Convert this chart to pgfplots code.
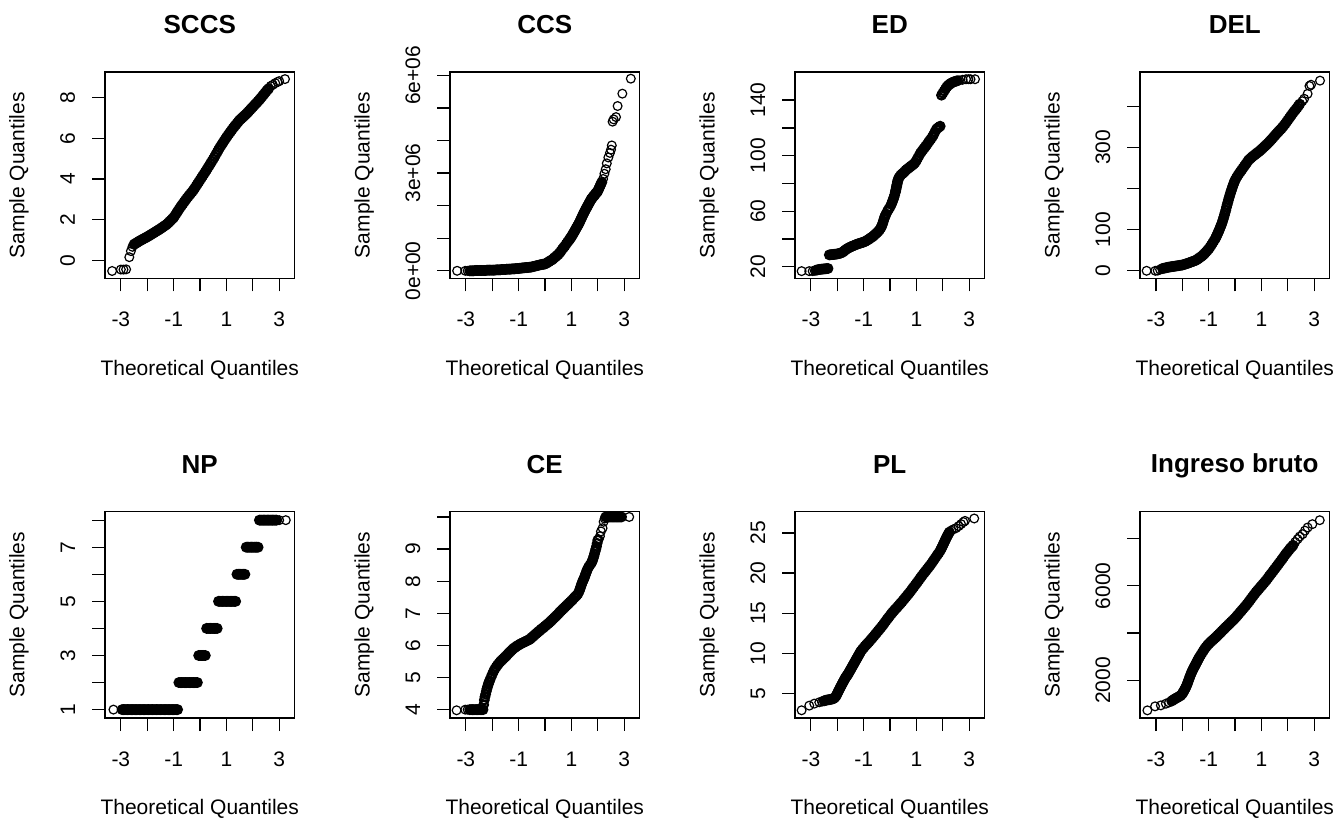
\documentclass[border=0pt]{standalone}
\usepackage{fontspec}
\setmainfont{Liberation Sans}
\usepackage{pgfplots}
\usepackage{pgfplotstable}
\pgfplotsset{compat=1.18}

% Normal QQ plots: theoretical quantile x, sample quantiles per variable
% (CCS in millions). Dense body of each sample on a common x grid.
\pgfplotstableread{
x sccs ccs ed del np ce pl ib
-2.95 nan nan nan nan 1 nan nan nan
-2.90 nan nan nan nan 1 nan nan nan
-2.85 nan 0.00 nan nan 1 4.00 nan nan
-2.80 nan 0.00 17.6 nan 1 4.00 nan nan
-2.75 nan 0.00 17.8 5.5 1 4.00 nan nan
-2.70 nan 0.00 18.0 6.2 1 4.00 nan nan
-2.65 nan 0.01 18.2 6.9 1 4.00 nan nan
-2.60 nan 0.01 18.3 7.6 1 4.00 nan nan
-2.55 nan 0.01 18.4 8.3 1 4.00 nan nan
-2.50 0.78 0.01 18.5 9.0 1 4.00 4.10 nan
-2.45 0.82 0.01 18.6 9.5 1 4.00 4.15 nan
-2.40 0.86 0.01 18.7 10.0 1 4.00 4.19 1130
-2.35 0.90 0.01 18.8 10.5 1 4.00 4.22 1170
-2.30 0.94 0.01 28.6 11.0 1 4.30 4.25 1205
-2.25 0.98 0.01 28.7 11.5 1 4.48 4.28 1240
-2.20 1.01 0.02 28.8 12.0 1 4.65 4.31 1270
-2.15 1.05 0.02 28.9 12.5 1 4.79 4.36 1300
-2.10 1.08 0.02 29.0 13.0 1 4.90 4.48 1335
-2.05 1.12 0.02 29.1 13.5 1 5.00 4.67 1368
-2.00 1.15 0.02 29.3 14.0 1 5.10 5.00 1440
-1.95 1.19 0.02 29.5 15.0 1 5.19 5.33 1530
-1.90 1.23 0.02 29.7 16.0 1 5.27 5.66 1630
-1.85 1.27 0.03 30.0 17.0 1 5.33 5.98 1740
-1.80 1.31 0.03 30.5 18.0 1 5.39 6.30 1880
-1.75 1.35 0.03 31.2 19.2 1 5.44 6.60 2040
-1.70 1.39 0.03 32.0 20.4 1 5.49 6.90 2190
-1.65 1.43 0.04 32.7 21.6 1 5.53 7.15 2330
-1.60 1.47 0.04 33.3 22.8 1 5.57 7.38 2450
-1.55 1.51 0.04 33.8 23.9 1 5.61 7.67 2560
-1.50 1.55 0.04 34.3 25.0 1 5.65 7.96 2660
-1.45 1.60 0.05 34.7 27.0 1 5.69 8.25 2770
-1.40 1.64 0.05 35.1 29.0 1 5.74 8.54 2880
-1.35 1.69 0.05 35.5 31.5 1 5.78 8.83 2980
-1.30 1.73 0.05 35.9 33.8 1 5.82 9.13 3070
-1.25 1.78 0.06 36.3 36.0 1 5.86 9.42 3160
-1.20 1.84 0.06 36.6 39.0 1 5.90 9.72 3250
-1.15 1.91 0.06 36.9 42.3 1 5.93 10.00 3340
-1.10 1.97 0.07 37.2 45.7 1 5.96 10.30 3410
-1.05 2.04 0.07 37.5 49.3 1 5.99 10.50 3480
-1.00 2.10 0.07 37.8 53.0 1 6.01 10.70 3540
-0.95 2.20 0.08 38.2 57.5 1 6.04 10.90 3600
-0.90 2.30 0.08 38.7 62.3 1 6.06 11.08 3650
-0.85 2.40 0.09 39.3 67.5 1 6.08 11.25 3700
-0.80 2.50 0.09 39.9 72.7 2 6.10 11.43 3750
-0.75 2.60 0.10 40.6 78.0 2 6.12 11.62 3800
-0.70 2.69 0.10 41.2 84.5 2 6.14 11.82 3855
-0.65 2.78 0.10 41.9 91.5 2 6.16 12.00 3910
-0.60 2.87 0.11 42.7 99.0 2 6.18 12.20 3965
-0.55 2.96 0.11 43.6 107.0 2 6.21 12.40 4020
-0.50 3.05 0.12 44.5 115.0 2 6.25 12.60 4080
-0.45 3.13 0.13 45.4 125.0 2 6.28 12.80 4135
-0.40 3.21 0.14 46.5 136.0 2 6.32 13.00 4190
-0.35 3.29 0.15 48.0 147.5 2 6.36 13.20 4248
-0.30 3.37 0.16 50.0 160.0 2 6.39 13.40 4300
-0.25 3.45 0.17 53.0 172.0 2 6.43 13.62 4355
-0.20 3.55 0.18 56.0 183.0 2 6.46 13.85 4410
-0.15 3.65 0.19 58.0 193.5 2 6.50 14.07 4465
-0.10 3.75 0.20 60.0 203.0 2 6.53 14.30 4520
-0.05 3.85 0.20 61.5 212.0 3 6.56 14.50 4575
0.00 3.95 0.21 63.0 220.0 3 6.60 14.72 4630
0.05 4.05 0.23 65.0 226.0 3 6.63 14.93 4695
0.10 4.15 0.26 67.5 231.0 3 6.67 15.13 4760
0.15 4.25 0.28 70.0 236.0 3 6.70 15.32 4825
0.20 4.35 0.31 73.5 240.5 3 6.74 15.50 4890
0.25 4.45 0.33 78.0 245.0 4 6.78 15.68 4955
0.30 4.56 0.36 82.5 249.5 4 6.82 15.86 5020
0.35 4.66 0.40 84.5 254.0 4 6.86 16.05 5085
0.40 4.77 0.43 85.8 258.5 4 6.90 16.24 5150
0.45 4.87 0.47 86.8 263.0 4 6.94 16.42 5220
0.50 4.98 0.50 87.5 268.0 4 6.98 16.62 5290
0.55 5.09 0.55 88.5 271.0 4 7.03 16.82 5365
0.60 5.21 0.60 89.5 274.0 4 7.07 17.02 5440
0.65 5.32 0.66 90.3 277.0 4 7.11 17.22 5515
0.70 5.44 0.71 91.0 279.5 5 7.15 17.42 5590
0.75 5.55 0.76 91.8 282.0 5 7.19 17.62 5665
0.80 5.65 0.82 92.5 284.5 5 7.23 17.84 5735
0.85 5.75 0.88 93.2 287.0 5 7.27 18.06 5800
0.90 5.85 0.93 94.0 289.5 5 7.31 18.28 5865
0.95 5.95 0.99 95.0 292.0 5 7.35 18.50 5930
1.00 6.05 1.05 96.5 295.0 5 7.39 18.72 5995
1.05 6.14 1.12 98.3 298.0 5 7.43 18.94 6060
1.10 6.23 1.19 100.0 301.0 5 7.48 19.16 6125
1.15 6.32 1.26 101.8 304.0 5 7.52 19.40 6190
1.20 6.41 1.33 103.0 307.0 5 7.56 19.62 6260
1.25 6.50 1.40 104.3 310.0 5 7.61 19.84 6335
1.30 6.58 1.48 105.5 313.5 5 7.70 20.05 6410
1.35 6.66 1.57 106.8 317.0 5 7.82 20.26 6485
1.40 6.74 1.65 108.0 320.5 6 7.94 20.47 6555
1.45 6.82 1.74 109.5 324.0 6 8.04 20.68 6630
1.50 6.90 1.82 110.8 328.0 6 8.13 20.89 6705
1.55 6.96 1.90 112.0 331.5 6 8.25 21.10 6777
1.60 7.02 1.97 113.5 335.0 6 8.36 21.34 6850
1.65 7.08 2.05 115.0 338.5 6 8.44 21.58 6925
1.70 7.14 2.12 117.0 342.0 6 8.50 21.82 7000
1.75 7.20 2.20 118.8 345.0 7 8.56 22.06 7075
1.80 7.27 2.25 119.8 349.0 7 8.65 22.30 7150
1.85 7.34 2.30 120.5 353.0 7 8.78 22.52 7230
1.90 7.41 2.35 121.2 357.0 7 8.93 22.80 7310
1.95 7.48 2.40 143.5 361.5 7 9.08 23.10 7380
2.00 7.55 2.45 145.0 366.0 7 9.28 23.45 7450
2.05 7.62 2.54 146.5 370.5 7 nan 23.80 7520
2.10 7.69 2.63 148.0 375.0 7 nan 24.15 7590
2.15 7.76 2.72 149.5 379.5 7 nan 24.50 7650
2.20 7.83 nan 150.5 384.0 7 nan 24.80 7710
2.25 7.90 nan 151.2 388.0 8 nan 25.10 nan
2.30 7.98 nan 152.0 392.0 8 10 nan nan
2.35 8.06 nan 152.5 396.0 8 10 nan nan
2.40 8.14 nan 153.0 400.5 8 10 nan nan
2.45 8.22 nan 153.3 405.0 8 10 nan nan
2.50 8.30 nan 153.6 nan 8 10 nan nan
2.55 8.38 nan 153.9 nan 8 10 nan nan
2.60 8.45 nan nan nan 8 10 nan nan
2.65 nan nan nan nan 8 10 nan nan
2.70 nan nan nan nan 8 10 nan nan
2.75 nan nan nan nan 8 10 nan nan
2.80 nan nan nan nan 8 10 nan nan
2.85 nan nan nan nan 8 10 nan nan
2.90 nan nan nan nan 8 10 nan nan
}\qqdata

\pgfplotsset{
  qq/.style={
    scale only axis, width=189.5bp, height=206.5bp,
    anchor=south west, clip=false,
    xmin=-3.6, xmax=3.58,
    xtick={-3,-2,-1,0,1,2,3},
    xticklabels={-3,,-1,,1,,3},
    tick align=outside, xtick pos=left, ytick pos=left,
    major tick length=13bp,
    every tick/.style={black, line width=1.3bp},
    axis line style={line width=1.3bp},
    tick label style={font=\fontsize{21bp}{25bp}\selectfont},
    label style={font=\fontsize{21bp}{25bp}\selectfont},
    xticklabel style={anchor=base, yshift=-35bp},
    yticklabel style={xshift=-17bp, rotate=90, anchor=base},
    every axis title/.style={font=\fontsize{26bp}{30bp}\selectfont\bfseries,
      at={(axis description cs:0.5,1.1864)}, anchor=base},
    xlabel={Theoretical Quantiles}, ylabel={Sample Quantiles},
    xlabel style={at={(axis description cs:0.5,-0.4697)}, anchor=base},
    ylabel style={at={(axis description cs:-0.4248,0.5)}, anchor=base},
  },
  % isolated observations: thin open circles
  pts/.style={only marks, mark=o, mark size=4.4bp, black,
    mark options={line width=1.2bp}},
  % crowded observations: rings merge into a solid band
  band/.style={only marks, mark=o, mark size=4.3bp, black,
    mark options={line width=2.2bp}},
}

\begin{document}
\begin{tikzpicture}
\useasboundingbox (0,0) rectangle (1343bp,823bp);

% ---------------- row 1 ----------------
\begin{axis}[qq, at={(105bp,544.5bp)}, title={SCCS},
  ymin=-0.9, ymax=9.27, ytick={0,2,4,6,8}, yticklabels={0,2,4,6,8}]
\addplot[band] table[x=x, y=sccs] {\qqdata};
\addplot[pts] coordinates {(-3.33,-0.53) (-3.0,-0.46) (-2.9,-0.46) (-2.8,-0.45)
  (-2.68,0.15) (-2.62,0.45) (-2.56,0.66) (2.68,8.58) (2.76,8.64) (2.85,8.72)
  (2.94,8.78) (3.0,8.82) (3.22,8.92)};
\end{axis}

\begin{axis}[qq, at={(450bp,544.5bp)}, title={CCS},
  ymin=-0.236, ymax=6.105, ytick={0,1,2,3,4,5,6},
  yticklabels={0e+00,,,3e+06,,,6e+06}]
\addplot[band] table[x=x, y=ccs] {\qqdata};
\addplot[band] coordinates {
  (0.925,0.96) (0.975,1.02) (1.025,1.08) (1.075,1.15) (1.125,1.22) (1.175,1.30)
  (1.225,1.37) (1.275,1.44) (1.325,1.52) (1.375,1.61) (1.425,1.70) (1.475,1.78)
  (1.525,1.86) (1.575,1.94) (1.625,2.01) (1.675,2.09) (1.725,2.16) (1.775,2.22)
  (1.825,2.28) (1.875,2.32) (1.925,2.38) (1.975,2.42) (2.025,2.50) (2.075,2.59)
  (2.125,2.68)};
\addplot[pts] coordinates {(-3.33,0) (-3.02,0) (-2.93,0)
  (2.20,2.82) (2.25,2.98) (2.30,3.12) (2.34,3.30) (2.40,3.48)
  (2.46,3.62) (2.50,3.72) (2.53,3.85) (2.56,4.58) (2.60,4.65) (2.69,4.72)
  (2.75,5.06) (2.93,5.44) (3.25,5.90)};
\end{axis}

\begin{axis}[qq, at={(795bp,544.5bp)}, title={ED},
  ymin=11.6, ymax=160.2, ytick={20,40,60,80,100,120,140},
  yticklabels={20,,60,,100,,140}]
\addplot[band] table[x=x, y=ed] {\qqdata};
\addplot[band] coordinates {
  (-0.325,49.0) (-0.275,51.5) (-0.225,54.5) (-0.175,57.0) (0.075,66.2)
  (0.125,68.8) (0.175,71.7) (0.2125,74.6) (0.225,75.7) (0.2375,76.9)
  (0.2625,79.1) (0.275,80.2) (0.2875,81.4) (0.325,83.6)};
\addplot[pts] coordinates {(-3.35,16.9) (-3.06,16.9) (-2.93,16.9) (-2.85,17.2)
  (2.62,154.2) (2.75,154.6) (2.88,155) (2.97,155) (3.05,155) (3.22,155)};
\end{axis}

\begin{axis}[qq, at={(1140bp,544.5bp)}, title={DEL},
  ymin=-18.7, ymax=483, ytick={0,100,200,300,400},
  yticklabels={0,100,,300,}]
\addplot[band] table[x=x, y=del] {\qqdata};
\addplot[band] coordinates {
  (-0.725,81) (-0.675,88) (-0.625,95) (-0.575,103) (-0.525,111) (-0.475,120)
  (-0.425,130.5) (-0.375,141.5) (-0.325,154) (-0.275,166) (-0.225,177.5)
  (-0.175,188) (-0.125,198) (-0.075,207.5) (-0.025,216)};
\addplot[pts] coordinates {(-3.35,0) (-3.02,0) (-2.93,0.5) (-2.84,3)
  (2.55,412) (2.62,418) (2.75,430) (2.82,449) (2.88,452) (3.22,462)};
\end{axis}

% ---------------- row 2 ----------------
\begin{axis}[qq, at={(105bp,105bp)}, title={NP},
  ymin=0.69, ymax=8.32, ytick={1,2,3,4,5,6,7,8},
  yticklabels={1,,3,,5,,7,}]
\addplot[band] table[x=x, y=np] {\qqdata};
\addplot[pts] coordinates {(-3.28,1) (3.0,8) (3.25,8)};
\end{axis}

\begin{axis}[qq, at={(450bp,105bp)}, title={CE},
  ymin=3.74, ymax=10.17, ytick={4,5,6,7,8,9,10},
  yticklabels={4,5,6,7,8,9,}]
\addplot[band] table[x=x, y=ce] {\qqdata};
\addplot[band] coordinates {
  (-2.325,4.15) (-2.275,4.40) (-2.225,4.57) (-2.175,4.72) (-2.125,4.85)
  (1.325,7.76) (1.375,7.88) (1.425,7.99) (1.475,8.08) (1.525,8.19) (1.575,8.30)
  (1.775,8.60) (1.825,8.71) (1.875,8.85) (1.925,9.0) (1.975,9.18)};
\addplot[pts] coordinates {(-3.35,3.98) (-3.02,4) (-2.93,4)
  (2.03,9.3) (2.08,9.4) (2.12,9.55) (2.18,9.65) (2.22,9.85) (2.26,9.95)
  (3.19,10)};
\end{axis}

\begin{axis}[qq, at={(795bp,105bp)}, title={PL},
  ymin=1.96, ymax=27.67, ytick={5,10,15,20,25},
  yticklabels={5,10,15,20,25}]
\addplot[band] table[x=x, y=pl] {\qqdata};
\addplot[band] coordinates {
  (-2.025,4.83) (-1.975,5.17) (-1.925,5.5) (-1.875,5.82) (-1.825,6.14)
  (-1.775,6.45) (-1.725,6.75) (-1.675,7.03) (-1.625,7.27) (-1.575,7.52)
  (-1.525,7.82) (-1.475,8.1) (-1.425,8.4) (-1.375,8.7) (-1.325,8.98)
  (-1.275,9.28) (-1.225,9.57) (-1.175,9.86) (-1.125,10.15)
  (1.925,22.95) (1.975,23.28) (2.025,23.62) (2.075,23.98) (2.125,24.32)
  (2.175,24.65) (2.225,24.95)};
\addplot[pts] coordinates {(-3.35,2.92) (-3.06,3.5) (-2.87,3.75) (-2.68,3.92)
  (-2.58,4.0)
  (2.32,25.3) (2.40,25.45) (2.50,25.6) (2.60,25.85) (2.69,26.1) (2.78,26.35)
  (2.84,26.5) (3.19,26.8)};
\end{axis}

\begin{axis}[qq, at={(1140bp,105bp)}, title={Ingreso bruto},
  ymin=412, ymax=9140, ytick={2000,4000,6000,8000},
  yticklabels={2000,,6000,}]
\addplot[band] table[x=x, y=ib] {\qqdata};
\addplot[band] coordinates {
  (-1.975,1485) (-1.925,1580) (-1.875,1685) (-1.825,1810) (-1.775,1960)
  (-1.725,2115) (-1.675,2260) (-1.625,2390) (-1.575,2505) (-1.525,2610)
  (-1.475,2715) (-1.425,2825) (-1.375,2930)};
\addplot[pts] coordinates {(-3.32,735) (-3.03,904) (-2.81,946) (-2.62,1016)
  (-2.5,1070)
  (2.28,7850) (2.37,7971) (2.45,8080) (2.56,8182) (2.65,8330) (2.75,8463)
  (2.93,8604) (3.21,8772)};
\end{axis}
\end{tikzpicture}
\end{document}
